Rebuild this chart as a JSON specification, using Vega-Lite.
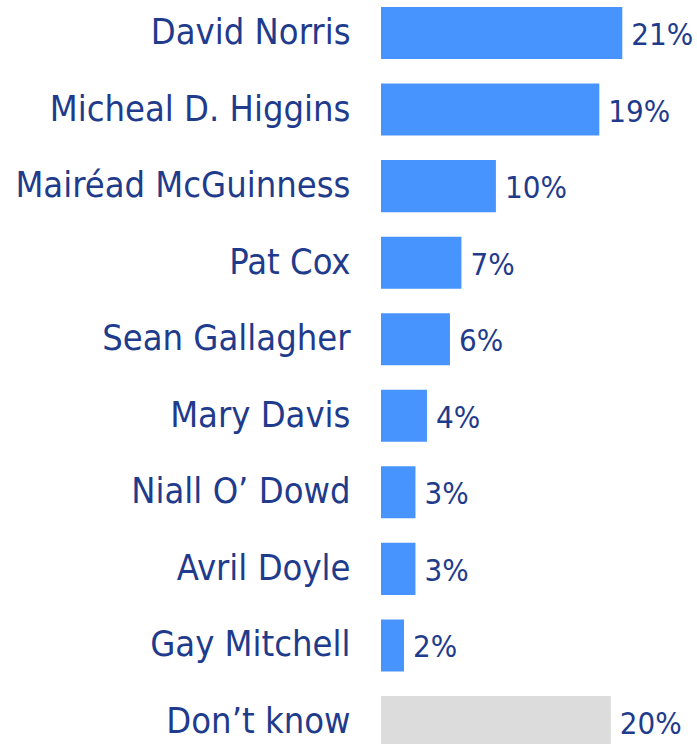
{
  "$schema": "https://vega.github.io/schema/vega-lite/v6.json",
  "autosize": "none",
  "padding": {"left": 381, "top": 7, "right": 0, "bottom": 0},
  "width": 316,
  "height": 741,
  "background": "white",
  "config": {"view": {"stroke": null}},
  "data": {
    "values": [
      {"name": "David Norris", "share": 0.21, "group": "candidate"},
      {"name": "Micheal D. Higgins", "share": 0.19, "group": "candidate"},
      {"name": "Mairéad McGuinness", "share": 0.10, "group": "candidate"},
      {"name": "Pat Cox", "share": 0.07, "group": "candidate"},
      {"name": "Sean Gallagher", "share": 0.06, "group": "candidate"},
      {"name": "Mary Davis", "share": 0.04, "group": "candidate"},
      {"name": "Niall O’ Dowd", "share": 0.03, "group": "candidate"},
      {"name": "Avril Doyle", "share": 0.03, "group": "candidate"},
      {"name": "Gay Mitchell", "share": 0.02, "group": "candidate"},
      {"name": "Don’t know", "share": 0.20, "group": "dk"}
    ]
  },
  "encoding": {
    "y": {
      "field": "name",
      "type": "nominal",
      "sort": null,
      "scale": {"paddingInner": 0.32, "paddingOuter": 0},
      "axis": {
        "title": null,
        "domain": false,
        "ticks": false,
        "labelPadding": 31,
        "labelFont": "DejaVu Sans Condensed, Liberation Sans, sans-serif",
        "labelFontSize": 36,
        "labelColor": "#1F3B8C",
        "labelLimit": 400
      }
    },
    "x": {
      "field": "share",
      "type": "quantitative",
      "scale": {"domain": [0, 0.275], "nice": false},
      "axis": null
    }
  },
  "layer": [
    {
      "mark": {"type": "bar"},
      "encoding": {
        "color": {
          "field": "group",
          "type": "nominal",
          "scale": {"domain": ["candidate", "dk"], "range": ["#4894FE", "#DCDCDC"]},
          "legend": null
        }
      }
    },
    {
      "mark": {
        "type": "text",
        "align": "left",
        "baseline": "middle",
        "dx": 9,
        "dy": 3,
        "font": "DejaVu Sans Condensed, Liberation Sans, sans-serif",
        "fontSize": 31,
        "color": "#1F3B8C"
      },
      "encoding": {
        "text": {"field": "share", "type": "quantitative", "format": ".0%"}
      }
    }
  ]
}
